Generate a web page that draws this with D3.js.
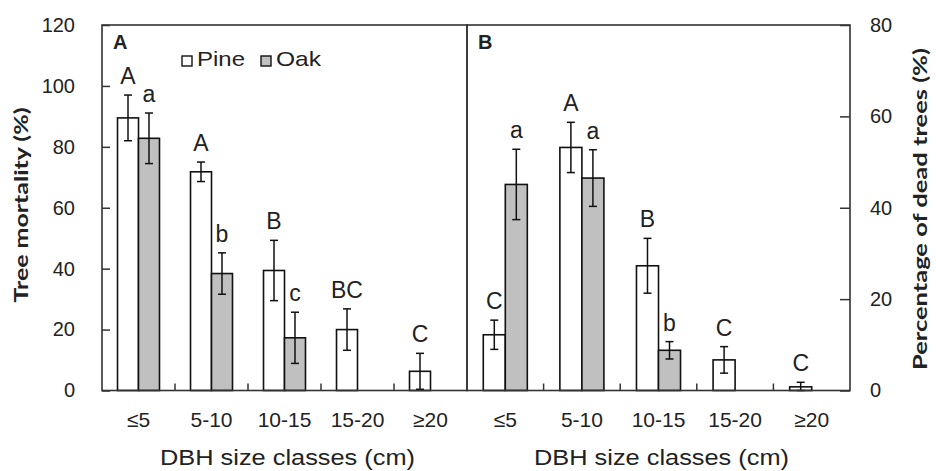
<!DOCTYPE html>
<html>
<head>
<meta charset="utf-8">
<script src="https://cdn.jsdelivr.net/npm/d3@7"></script>
<style>
  body { margin: 0; background: #fff; }
  text { font-family: "Liberation Sans", Arial, sans-serif; fill: #222; }
</style>
</head>
<body>
<div id="chart"></div>
<script>
"use strict"

// size classes shared by both panels
let categories = ["≤5", "5-10", "10-15", "15-20", "≥20"];
let species = ["Pine", "Oak"];

// panel A: tree mortality (%)
let pineMortality = [89.5, 71.8, 39.4, 20.0, 6.3];
let pineMortalityErr = [7.5, 3.2, 9.9, 6.8, 5.9];
let oakMortality = [82.8, 38.4, 17.3, null, null];
let oakMortalityErr = [8.3, 6.8, 8.4, null, null];
let pineMortalityLetters = ["A", "A", "B", "BC", "C"];
let oakMortalityLetters = ["a", "b", "c", "", ""];
let mortalityTicks = [0, 20, 40, 60, 80, 100, 120];

// panel B: percentage of dead trees (%)
let pineDead = [12.2, 53.2, 27.3, 6.7, 0.8];
let pineDeadErr = [3.2, 5.5, 6.0, 2.9, 1.0];
let oakDead = [45.1, 46.5, 8.8, null, null];
let oakDeadErr = [7.7, 6.2, 1.9, null, null];
let pineDeadLetters = ["C", "A", "B", "C", "C"];
let oakDeadLetters = ["a", "a", "b", "", ""];
let deadTicks = [0, 20, 40, 60, 80];

let width = 936,
    height = 471,
    plotTop = 25,
    plotBottom = 390.5;

let svg = d3.select("#chart")
    .append("svg")
    .attr("width", width)
    .attr("height", height);

let fills = { "Pine": "#ffffff", "Oak": "#c0c0c0" };

function drawPanel(p) {
    let g = svg.append("g");

    let x0 = d3.scaleBand().domain(categories).range([p.left, p.right]);
    let groupW = x0.bandwidth() * 0.575;
    let x1 = d3.scaleBand().domain(species).range([0, groupW]);
    let y = d3.scaleLinear().domain([0, p.max]).range([plotBottom, plotTop]);

    // build rows from the arrays
    let rows = [];
    categories.forEach(function (c, i) {
        rows.push({ cat: c, sp: "Pine", v: p.pine[i], e: p.pineErr[i], l: p.pineLetters[i] });
        rows.push({ cat: c, sp: "Oak", v: p.oak[i], e: p.oakErr[i], l: p.oakLetters[i] });
    });
    rows = rows.filter(function (d) { return d.v != null; });

    let bx = function (d) {
        return x0(d.cat) + (x0.bandwidth() - groupW) / 2 + x1(d.sp);
    };
    let cx = function (d) { return bx(d) + x1.bandwidth() / 2; };

    g.selectAll("rect.bar")
        .data(rows)
        .enter()
        .append("rect")
        .attr("class", "bar")
        .attr("x", bx)
        .attr("y", function (d) { return y(d.v); })
        .attr("width", x1.bandwidth())
        .attr("height", function (d) { return y(0) - y(d.v); })
        .attr("fill", function (d) { return fills[d.sp]; })
        .attr("stroke", "#111")
        .attr("stroke-width", 1.6);

    // error bars
    let eb = g.selectAll("g.err")
        .data(rows)
        .enter()
        .append("g")
        .attr("stroke", "#111")
        .attr("stroke-width", 1.5);
    eb.append("line")
        .attr("x1", cx).attr("x2", cx)
        .attr("y1", function (d) { return y(Math.max(0, d.v - d.e)); })
        .attr("y2", function (d) { return y(d.v + d.e); });
    eb.append("line")
        .attr("x1", function (d) { return cx(d) - 4; })
        .attr("x2", function (d) { return cx(d) + 4; })
        .attr("y1", function (d) { return y(d.v + d.e); })
        .attr("y2", function (d) { return y(d.v + d.e); });
    eb.append("line")
        .attr("x1", function (d) { return cx(d) - 4; })
        .attr("x2", function (d) { return cx(d) + 4; })
        .attr("y1", function (d) { return y(Math.max(0, d.v - d.e)); })
        .attr("y2", function (d) { return y(Math.max(0, d.v - d.e)); });

    // significance letters
    g.selectAll("text.letter")
        .data(rows)
        .enter()
        .append("text")
        .attr("x", cx)
        .attr("y", function (d) { return y(d.v + d.e) - 11; })
        .attr("text-anchor", "middle")
        .style("font-size", "23px")
        .text(function (d) { return d.l; });

    // y axis with inward ticks
    let axis = p.side == "left"
        ? d3.axisLeft(y).tickValues(p.ticks).tickSize(-8).tickPadding(27)
        : d3.axisRight(y).tickValues(p.ticks).tickSize(-10).tickPadding(20);
    let ag = g.append("g")
        .attr("transform", "translate(" + (p.side == "left" ? p.left : p.right) + ",0)")
        .call(axis);
    ag.select(".domain").remove();
    ag.selectAll("line").attr("stroke", "#333").attr("stroke-width", 1.5);
    ag.selectAll("text")
        .style("font-size", "20px")
        .style("font-family", "'Liberation Sans', Arial, sans-serif")
        .attr("fill", "#222");

    // small x ticks between classes
    g.selectAll("line.xt")
        .data(categories.slice(1))
        .enter()
        .append("line")
        .attr("x1", function (d) { return x0(d); })
        .attr("x2", function (d) { return x0(d); })
        .attr("y1", plotBottom)
        .attr("y2", plotBottom - 7)
        .attr("stroke", "#333")
        .attr("stroke-width", 1.5);

    g.selectAll("text.xl")
        .data(categories)
        .enter()
        .append("text")
        .attr("x", function (d) { return x0(d) + x0.bandwidth() / 2; })
        .attr("y", 427)
        .attr("text-anchor", "middle")
        .style("font-size", "21px")
        .text(function (d) { return d; });

    // frame
    g.append("rect")
        .attr("x", p.left)
        .attr("y", plotTop)
        .attr("width", p.right - p.left)
        .attr("height", plotBottom - plotTop)
        .attr("fill", "none")
        .attr("stroke", "#333")
        .attr("stroke-width", 1.6);

    // panel letter
    g.append("text")
        .attr("x", p.left + 11)
        .attr("y", 49)
        .style("font-size", "20px")
        .style("font-weight", "bold")
        .text(p.label);

    // x title
    g.append("text")
        .attr("x", (p.left + p.right) / 2 + 3)
        .attr("y", 465)
        .attr("text-anchor", "middle")
        .attr("textLength", 255)
        .attr("lengthAdjust", "spacingAndGlyphs")
        .style("font-size", "22px")
        .text("DBH size classes (cm)");
}

drawPanel({
    left: 102, right: 467, max: 120, ticks: mortalityTicks, side: "left", label: "A",
    pine: pineMortality, pineErr: pineMortalityErr, pineLetters: pineMortalityLetters,
    oak: oakMortality, oakErr: oakMortalityErr, oakLetters: oakMortalityLetters
});

drawPanel({
    left: 467, right: 850, max: 80, ticks: deadTicks, side: "right", label: "B",
    pine: pineDead, pineErr: pineDeadErr, pineLetters: pineDeadLetters,
    oak: oakDead, oakErr: oakDeadErr, oakLetters: oakDeadLetters
});

// y titles
svg.append("text")
    .attr("transform", "translate(28,205) rotate(-90)")
    .attr("text-anchor", "middle")
    .attr("textLength", 195)
    .attr("lengthAdjust", "spacingAndGlyphs")
    .style("font-family", "Lato, 'Open Sans', sans-serif")
    .style("font-weight", "bold")
    .style("font-size", "18px")
    .text("Tree mortality (%)");

svg.append("text")
    .attr("transform", "translate(927,209) rotate(-90)")
    .attr("text-anchor", "middle")
    .attr("textLength", 322)
    .attr("lengthAdjust", "spacingAndGlyphs")
    .style("font-family", "Lato, 'Open Sans', sans-serif")
    .style("font-weight", "bold")
    .style("font-size", "19px")
    .text("Percentage of dead trees (%)");

// legend
let legend = svg.append("g")
    .selectAll("g")
    .data(species)
    .enter()
    .append("g")
    .attr("transform", function (d, i) { return "translate(" + (182 + i * 79) + ",56)"; });
legend.append("rect")
    .attr("width", 10)
    .attr("height", 10)
    .attr("fill", function (d) { return fills[d]; })
    .attr("stroke", "#111")
    .attr("stroke-width", 1.4);
legend.append("text")
    .attr("x", 15)
    .attr("y", 10)
    .attr("textLength", function (d) { return d == "Pine" ? 48 : 45; })
    .attr("lengthAdjust", "spacingAndGlyphs")
    .style("font-size", "21px")
    .text(function (d) { return d; });
</script>
</body>
</html>
